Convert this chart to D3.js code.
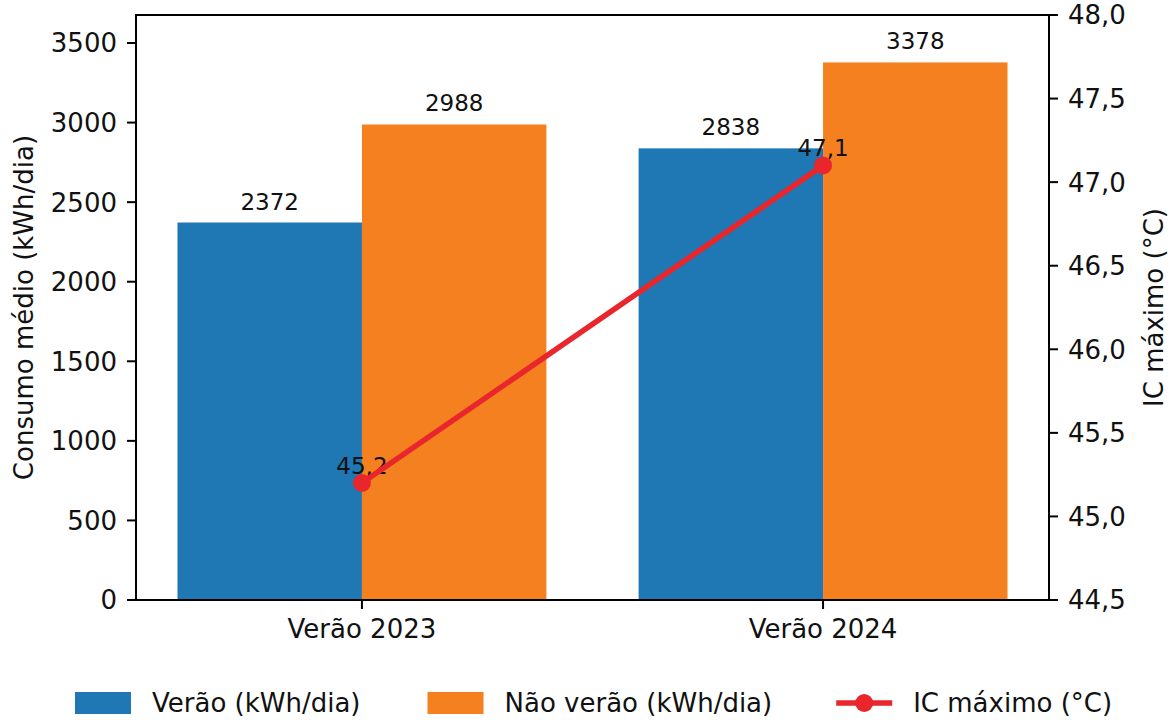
<!DOCTYPE html>
<html>
<head>
<meta charset="utf-8">
<script src="https://cdn.jsdelivr.net/npm/d3@7"></script>
<style>
  html, body { margin: 0; padding: 0; background: #fff; }
  svg { display: block; font-family: "DejaVu Sans", sans-serif; }
</style>
</head>
<body>
<svg id="chart" width="1171" height="720"></svg>
<script>
"use strict";
// Data
const categories = ["Verão 2023", "Verão 2024"];
const summerValues = [2372, 2838];
const nonSummerValues = [2988, 3378];
const icMax = [45.2, 47.1];
const leftTicks = [0, 500, 1000, 1500, 2000, 2500, 3000, 3500];
const rightTicks = [44.5, 45.0, 45.5, 46.0, 46.5, 47.0, 47.5, 48.0];
const seriesNames = ["Verão (kWh/dia)", "Não verão (kWh/dia)", "IC máximo (°C)"];

(function () {
  const colors = { summer: "#1f77b4", nonSummer: "#f58020", line: "#e8262c" };
  const margin = { top: 15, right: 122, bottom: 120, left: 136 };
  const width = 1171, height = 720;
  const innerW = width - margin.left - margin.right;
  const innerH = height - margin.top - margin.bottom;

  const svg = d3.select("#chart");
  const g = svg.append("g").attr("transform", `translate(${margin.left},${margin.top})`);

  // x: numeric positions like matplotlib (0, 1), bars of width 0.4
  const x = d3.scaleLinear().domain([-0.49, 1.49]).range([0, innerW]);
  const barW = 0.4;
  const yLeft = d3.scaleLinear().domain([0, 3676]).range([innerH, 0]);
  const yRight = d3.scaleLinear().domain([44.5, 48.0]).range([innerH, 0]);

  const fmtComma = (v) => d3.format(".1f")(v).replace(".", ",");

  const bars = [];
  categories.forEach((c, i) => {
    bars.push({ i, offset: -barW / 2, value: summerValues[i], color: colors.summer });
    bars.push({ i, offset: barW / 2, value: nonSummerValues[i], color: colors.nonSummer });
  });

  g.selectAll(".bar")
    .data(bars)
    .join("rect")
    .attr("class", "bar")
    .attr("x", (d) => x(d.i + d.offset - barW / 2))
    .attr("width", (d) => x(barW) - x(0))
    .attr("y", (d) => yLeft(d.value))
    .attr("height", (d) => innerH - yLeft(d.value))
    .attr("fill", (d) => d.color);

  g.selectAll(".bar-label")
    .data(bars)
    .join("text")
    .attr("class", "bar-label")
    .attr("x", (d) => x(d.i + d.offset))
    .attr("y", (d) => yLeft(d.value) - 13)
    .attr("text-anchor", "middle")
    .attr("font-size", 23)
    .attr("fill", "#111")
    .text((d) => d.value);

  // Left axis
  const axisL = g.append("g");
  axisL.selectAll("line")
    .data(leftTicks)
    .join("line")
    .attr("x1", -9).attr("x2", 0)
    .attr("y1", (d) => yLeft(d)).attr("y2", (d) => yLeft(d))
    .attr("stroke", "#000").attr("stroke-width", 2);
  axisL.selectAll("text")
    .data(leftTicks)
    .join("text")
    .attr("x", -19)
    .attr("y", (d) => yLeft(d))
    .attr("dy", "0.36em")
    .attr("text-anchor", "end")
    .attr("font-size", 26)
    .attr("fill", "#111")
    .text((d) => d);

  // Right axis
  const axisR = g.append("g").attr("transform", `translate(${innerW},0)`);
  axisR.selectAll("line")
    .data(rightTicks)
    .join("line")
    .attr("x1", 0).attr("x2", 9)
    .attr("y1", (d) => yRight(d)).attr("y2", (d) => yRight(d))
    .attr("stroke", "#000").attr("stroke-width", 2);
  axisR.selectAll("text")
    .data(rightTicks)
    .join("text")
    .attr("x", 19)
    .attr("y", (d) => yRight(d))
    .attr("dy", "0.36em")
    .attr("text-anchor", "start")
    .attr("font-size", 26)
    .attr("fill", "#111")
    .text((d) => fmtComma(d));

  // Bottom axis
  const axisB = g.append("g").attr("transform", `translate(0,${innerH})`);
  axisB.selectAll("line")
    .data(categories)
    .join("line")
    .attr("x1", (d, i) => x(i)).attr("x2", (d, i) => x(i))
    .attr("y1", 0).attr("y2", 9)
    .attr("stroke", "#000").attr("stroke-width", 2);
  axisB.selectAll("text")
    .data(categories)
    .join("text")
    .attr("x", (d, i) => x(i))
    .attr("y", 38)
    .attr("text-anchor", "middle")
    .attr("font-size", 26)
    .attr("fill", "#111")
    .text((d) => d);

  // Frame
  g.append("rect")
    .attr("width", innerW).attr("height", innerH)
    .attr("fill", "none").attr("stroke", "#000").attr("stroke-width", 2);

  // Axis titles
  svg.append("text")
    .attr("transform", `translate(33,${margin.top + innerH / 2}) rotate(-90)`)
    .attr("text-anchor", "middle")
    .attr("font-size", 26)
    .attr("fill", "#111")
    .text("Consumo médio (kWh/dia)");
  svg.append("text")
    .attr("transform", `translate(1163,${margin.top + innerH / 2}) rotate(-90)`)
    .attr("text-anchor", "middle")
    .attr("font-size", 26)
    .attr("fill", "#111")
    .text("IC máximo (°C)");

  // IC line
  const line = d3.line().x((d, i) => x(i)).y((d) => yRight(d));
  g.selectAll(".ic-label")
    .data(icMax)
    .join("text")
    .attr("class", "ic-label")
    .attr("x", (d, i) => x(i))
    .attr("y", (d) => yRight(d) - 9)
    .attr("text-anchor", "middle")
    .attr("font-size", 23)
    .attr("fill", "#111")
    .text((d) => fmtComma(d));
  g.append("path")
    .datum(icMax)
    .attr("d", line)
    .attr("fill", "none")
    .attr("stroke", colors.line)
    .attr("stroke-width", 5.5)
    .attr("stroke-linecap", "square");
  g.selectAll(".ic-dot")
    .data(icMax)
    .join("circle")
    .attr("class", "ic-dot")
    .attr("cx", (d, i) => x(i))
    .attr("cy", (d) => yRight(d))
    .attr("r", 9)
    .attr("fill", colors.line);

  // Legend
  const legend = svg.append("g").attr("transform", "translate(0,703)");
  const items = [
    { name: seriesNames[0], type: "patch", color: colors.summer },
    { name: seriesNames[1], type: "patch", color: colors.nonSummer },
    { name: seriesNames[2], type: "line", color: colors.line },
  ];
  let cx = 75;
  const gaps = [67, 64, 0];
  items.forEach((it, i) => {
    const item = legend.append("g").attr("transform", `translate(${cx},0)`);
    if (it.type === "patch") {
      item.append("rect")
        .attr("x", 0).attr("y", -11).attr("width", 56).attr("height", 22)
        .attr("fill", it.color);
    } else {
      item.append("line")
        .attr("x1", 0).attr("x2", 56).attr("y1", 0).attr("y2", 0)
        .attr("stroke", it.color).attr("stroke-width", 5.5);
      item.append("circle")
        .attr("cx", 28).attr("cy", 0).attr("r", 9).attr("fill", it.color);
    }
    const t = item.append("text")
      .attr("x", 77).attr("y", 0).attr("dy", "0.36em")
      .attr("font-size", 26)
      .attr("fill", "#111")
      .text(it.name);
    cx += 77 + t.node().getComputedTextLength() + gaps[i];
  });
})();
</script>
</body>
</html>
